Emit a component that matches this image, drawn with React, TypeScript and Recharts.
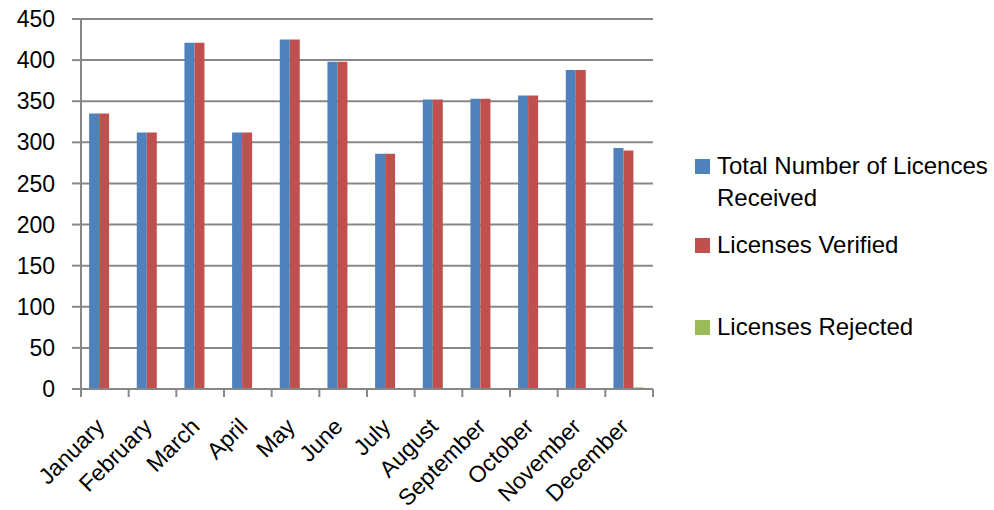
import { BarChart, Bar, XAxis, YAxis, CartesianGrid } from 'recharts';

const MONTHS = ['January', 'February', 'March', 'April', 'May', 'June', 'July', 'August', 'September', 'October', 'November', 'December'];
const RECEIVED = [335, 312, 421, 312, 425, 398, 286, 352, 353, 357, 388, 293];
const VERIFIED = [335, 312, 421, 312, 425, 398, 286, 352, 353, 357, 388, 290];
const REJECTED = [0, 0, 0, 0, 0, 0, 0, 0, 0, 0, 0, 2];
const Y_TICKS = [0, 50, 100, 150, 200, 250, 300, 350, 400, 450];

const SERIES = [
  { key: 'received', name: 'Total Number of Licences Received', color: '#4f81bd' },
  { key: 'verified', name: 'Licenses Verified', color: '#c0504d' },
  { key: 'rejected', name: 'Licenses Rejected', color: '#9bbb59' },
];

const data = MONTHS.map((m, i) => ({
  month: m,
  received: RECEIVED[i],
  verified: VERIFIED[i],
  rejected: REJECTED[i],
}));

const FONT = '"Liberation Sans", Arial, sans-serif';
const GRID = '#878787';
const PLOT_LEFT = 81;
const PLOT_RIGHT = 653;
const BAND = (PLOT_RIGHT - PLOT_LEFT) / MONTHS.length;

// tick marks sit between categories, labels at category centre
function MonthTick(props: any) {
  const { x, y, payload, index } = props;
  const last = index === MONTHS.length - 1;
  return (
    <g>
      <line x1={x - BAND / 2} y1={y - 8} x2={x - BAND / 2} y2={y} stroke={GRID} strokeWidth={2} />
      {last && <line x1={x + BAND / 2} y1={y - 8} x2={x + BAND / 2} y2={y} stroke={GRID} strokeWidth={2} />}
      <g transform={`translate(${x + 1},${y + 31})`}>
        <text textAnchor="end" transform="rotate(-45)" fontSize={23} fontFamily={FONT} fill="#000">
          {payload.value}
        </text>
      </g>
    </g>
  );
}

function LegendBox() {
  const rows = [
    { s: SERIES[0], top: 150, lines: ['Total Number of Licences', 'Received'] },
    { s: SERIES[1], top: 229, lines: ['Licenses Verified'] },
    { s: SERIES[2], top: 311, lines: ['Licenses Rejected'] },
  ];
  return (
    <div style={{ position: 'absolute', left: 690, top: 0, width: 304, height: 510, fontFamily: FONT, fontSize: 24 }}>
      {rows.map((r) => (
        <div key={r.s.key} style={{ position: 'absolute', left: 0, top: r.top }}>
          <span style={{ position: 'absolute', left: 5, top: 9, width: 15, height: 15, background: r.s.color }} />
          <div style={{ position: 'absolute', left: 27, top: 0, whiteSpace: 'nowrap', lineHeight: '31.5px' }}>
            {r.lines.map((l) => (
              <div key={l}>{l}</div>
            ))}
          </div>
        </div>
      ))}
    </div>
  );
}

export default function App() {
  return (
    <div style={{ position: 'absolute', left: 0, top: 0, width: 994, height: 510, background: '#fff' }}>
      <BarChart
        width={994}
        height={510}
        data={data}
        margin={{ top: 19, right: 994 - PLOT_RIGHT, bottom: 0, left: 0 }}
        barCategoryGap="17%"
        barGap={0}
      >
        <CartesianGrid vertical={false} stroke={GRID} strokeWidth={2} />
        <XAxis
          dataKey="month"
          height={121}
          interval={0}
          tick={<MonthTick />}
          axisLine={{ stroke: GRID, strokeWidth: 2 }}
          tickLine={false}
          tickSize={8}
          tickMargin={0}
        />
        <YAxis
          width={PLOT_LEFT}
          domain={[0, 450]}
          ticks={Y_TICKS}
          interval={0}
          tick={{ fontSize: 23, fontFamily: FONT, fill: '#000' }}
          axisLine={{ stroke: GRID, strokeWidth: 2 }}
          tickLine={{ stroke: GRID, strokeWidth: 2 }}
          tickSize={9}
          tickMargin={17}
        />
        {SERIES.map((s) => (
          <Bar key={s.key} dataKey={s.key} name={s.name} fill={s.color} isAnimationActive={false} />
        ))}
      </BarChart>
      <LegendBox />
    </div>
  );
}
